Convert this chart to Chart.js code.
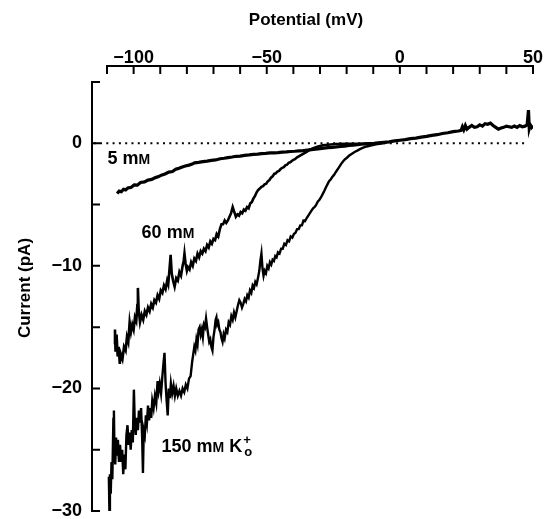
<!DOCTYPE html>
<html>
<head>
<meta charset="utf-8">
<script src="https://cdn.jsdelivr.net/npm/chart.js@4.4.1/dist/chart.umd.min.js"></script>
<style>
  html, body { margin: 0; padding: 0; background: #fff; }
  canvas { display: block; }
</style>
</head>
<body>
<canvas id="ivChart" width="553" height="519"></canvas>
<script>
// tick values
const xTickLabels = [-100, -50, 0, 50]
const xMinorTicks = [-110, -100, -90, -80, -70, -60, -50, -40, -30, -20, -10, 0, 10, 20, 30, 40, 50]
const yTickLabels = [0, -10, -20, -30]
const yMinorTicks = [5, 0, -5, -10, -15, -20, -25, -30]

// 5 mM trace (mV, pA), including the shared tail above the reversal potential
const mv5 = [-106.2, -105.4, -104.6, -103.8, -103, -102.2, -101, -99.8, -98.6, -97.4, -95.9, -94.6, -93.2, -91.8, -90.6, -89.6,
  -88.2, -86.8, -85.4, -84.2, -83.4, -82, -80.6, -79.2, -78, -77.1, -75.6, -74, -72.4, -70.8, -69.2, -67.5, -66, -64.6,
  -63, -61.5, -60, -58.3, -56.6, -55, -53.4, -52.0, -50.4, -48.8, -47.2, -45.8, -44.2, -42.6, -41, -39.5, -37.9, -36.3,
  -34.7, -33.2, -31.6, -30, -28.5, -27.0, -25.4, -23.8, -22.2, -20.7, -19.1, -17.6, -16, -14.5, -12.9, -11.3, -9.7, -8.2,
  -6, -4, -2, 0, 2, 4, 6, 8, 10, 12, 14, 16, 18, 20, 22, 23, 23.5, 24, 24.6, 25.2, 26, 27, 28, 29, 30, 31, 32, 33, 34, 35,
  36, 37, 38, 39, 40, 41, 42, 43, 44, 45, 46, 47, 47.8, 48.3, 48.6, 49, 49.5, 50]
const pa5 = [-4.1, -3.9, -3.95, -3.75, -3.8, -3.65, -3.6, -3.4, -3.42, -3.2, -3.15, -3.0, -2.95, -2.8, -2.72, -2.6,
  -2.5, -2.35, -2.3, -2.12, -2.07, -1.95, -1.85, -1.78, -1.7, -1.6, -1.56, -1.5, -1.45, -1.39, -1.36, -1.26, -1.22, -1.17,
  -1.12, -1.06, -1.04, -0.98, -0.95, -0.9, -0.88, -0.84, -0.82, -0.79, -0.78, -0.76, -0.72, -0.7, -0.67, -0.65, -0.62, -0.6,
  -0.56, -0.52, -0.47, -0.44, -0.4, -0.35, -0.33, -0.3, -0.26, -0.24, -0.18, -0.15, -0.11, -0.08, -0.05, -0.02, 0.0, 0.03,
  0.08, 0.12, 0.19, 0.25, 0.3, 0.38, 0.42, 0.5, 0.56, 0.65, 0.7, 0.8, 0.86, 0.95, 1.0, 1.05, 1.35, 1.1, 1.45, 1.15, 1.3, 1.45,
  1.3, 1.35, 1.5, 1.4, 1.6, 1.55, 1.65, 1.45, 1.3, 1.15, 1.25, 1.3, 1.4, 1.35, 1.3, 1.4, 1.3, 1.45, 1.35, 1.4, 1.5, 2.7,
  1.2, 1.5, 1.3, 1.45]

// 60 mM trace
const mv60 = [-107.2, -107.0, -106.8, -106.4, -106.0, -105.6, -105.2, -104.8, -104.2, -103.6, -103.0, -102.5, -102.0, -101.5,
  -101.0, -100.5, -100.0, -99.5, -99.0, -98.6, -98.4, -98.1, -97.6, -97.0, -96.4, -95.8, -95.2, -94.6, -94.0, -93.4, -92.8,
  -92.2, -91.6, -91.0, -90.4, -89.8, -89.2, -88.6, -88.0, -87.4, -87.0, -86.5, -86.1, -85.7, -85.2, -84.6, -84.0, -83.4,
  -82.8, -82.2, -81.6, -81.2, -80.9, -80.5, -80.0, -79.6, -79.0, -78.4, -77.8, -77.2, -76.6, -76.0, -75.4, -74.8, -74.2,
  -73.6, -73.0, -72.4, -71.8, -71.2, -70.6, -70.0, -69.4, -68.8, -68.2, -67.6, -67.0, -66.4, -65.8, -65.2, -64.6, -64.0,
  -63.4, -62.8, -62.2, -61.6, -61.0, -60.4, -59.8, -59.2, -58.6, -58.0, -57.4, -56.8, -56.2, -55.6, -55.0, -54.4, -53.8,
  -53.2, -52.6, -52.0, -51.4, -50.8, -50.2, -49.6, -49.0, -48.4, -47.8, -47.2, -46.6, -46.0, -45.4, -44.8, -44.2, -43.6,
  -43.0, -42.4, -41.8, -41.2, -40.6, -40.0, -39.4, -38.6, -37.8, -37.0, -36.0, -35.0, -34.0, -33.0, -32.0, -31.0, -30.0,
  -29.0, -28.0, -26.0, -24.0, -20.0, -15.0, -10.0]
const pa60 = [-16.4, -15.2, -17.0, -15.6, -17.4, -16.6, -18.0, -17.2, -17.6, -16.6, -16.9, -15.8, -16.2, -14.6,
  -15.4, -14.8, -15.2, -14.2, -14.5, -13.2, -11.8, -13.6, -14.6, -14.0, -14.4, -13.7, -14.0, -13.4, -13.7, -13.1, -13.4,
  -12.8, -13.0, -12.4, -12.7, -12.0, -12.2, -11.6, -11.9, -11.2, -11.5, -10.2, -9.1, -10.6, -11.2, -11.7, -11.0, -11.2,
  -10.5, -10.8, -10.0, -9.6, -9.0, -9.8, -10.4, -10.1, -10.3, -9.7, -10.0, -9.4, -9.6, -9.0, -9.3, -8.8, -9.0,
  -8.6, -8.8, -8.3, -8.5, -8.0, -8.2, -7.8, -7.9, -7.4, -7.6, -7.0, -6.6, -6.6, -6.3, -6.5, -6.3, -6.0,
  -5.7, -5.2, -5.6, -6.0, -5.8, -5.9, -5.6, -5.7, -5.4, -5.5, -5.2, -5.3, -4.9, -4.8, -4.5, -4.3, -4.0,
  -3.8, -3.7, -3.55, -3.5, -3.35, -3.3, -3.1, -3.0, -2.8, -2.7, -2.5, -2.45, -2.3, -2.25, -2.1, -2.0, -1.95,
  -1.8, -1.75, -1.6, -1.55, -1.45, -1.35, -1.3, -1.15, -1.05, -0.95, -0.82, -0.7, -0.55, -0.45, -0.36, -0.28, -0.22,
  -0.17, -0.14, -0.1, -0.06, -0.05, -0.04, -0.02]

// 150 mM trace
const mv150 = [-109.3, -109.1, -108.9, -108.6, -108.3, -108.0, -107.6, -107.4, -107.2, -106.9, -106.6, -106.2, -105.9, -105.5,
  -105.1, -104.7, -104.3, -103.9, -103.5, -103.1, -102.7, -102.3, -101.9, -101.5, -101.1, -100.7, -100.3, -99.9, -99.6, -99.2,
  -98.8, -98.4, -98.0, -97.6, -97.2, -96.8, -96.5, -96.2, -95.8, -95.4, -95.0, -94.6, -94.2, -93.8, -93.4, -93.0, -92.5,
  -92.0, -91.5, -91.0, -90.6, -90.2, -89.7, -89.2, -88.8, -88.4, -88.0, -87.6, -87.2, -86.8, -86.4, -86.0, -85.5, -85.0,
  -84.5, -84.0, -83.4, -82.8, -82.2, -81.6, -81.0, -80.4, -79.8, -79.2, -78.6, -78.0, -77.6, -77.2, -76.8, -76.4, -76.0,
  -75.6, -75.2, -74.8, -74.4, -74.0, -73.6, -73.2, -72.8, -72.4, -72.0, -71.6, -71.2, -70.8, -70.4, -70.0, -69.6, -69.2,
  -68.9, -68.6, -68.2, -67.8, -67.4, -67.0, -66.6, -66.2, -65.8, -65.3, -64.8, -64.3, -63.8, -63.3, -62.8, -62.3, -61.8,
  -61.3, -60.8, -60.3, -59.8, -59.3, -58.8, -58.3, -57.8, -57.3, -56.8, -56.3, -55.8, -55.3, -54.8, -54.3, -53.8, -53.3,
  -52.8, -52.4, -52.0, -51.6, -51.2, -50.8, -50.3, -49.8, -49.3, -48.8, -48.3, -47.8, -47.3, -46.8, -46.3, -45.8, -45.2,
  -44.6, -44.0, -43.4, -42.8, -42.2, -41.6, -41.0, -40.4, -39.8, -39.2, -38.6, -38.0, -37.4, -36.8, -36.2, -35.6, -35.0,
  -34.4, -33.8, -33.2, -32.6, -32.0, -31.4, -30.8, -30.2, -29.6, -29.0, -28.4, -27.8, -27.2, -26.6, -26.0, -25.4, -24.8,
  -24.2, -23.6, -23.0, -22.4, -21.8, -21.2, -20.6, -20.0, -19.0, -18.0, -17.0, -16.0, -15.0, -14.0, -12.5, -11.0, -9.0,
  -7.0, -5.0]
const pa150 = [-27.2, -30.0, -27.0, -28.6, -26.0, -27.4, -22.5, -21.8, -25.5, -26.2, -24.0, -25.4, -24.2, -26.0,
  -24.6, -26.0, -25.0, -27.0, -25.4, -26.6, -23.8, -23.0, -24.6, -23.6, -25.0, -23.4, -24.4, -20.1, -22.6, -23.8,
  -22.4, -23.4, -21.8, -22.8, -21.6, -24.0, -26.9, -23.4, -23.8, -22.2, -22.8, -21.4, -22.6, -21.6, -22.4, -21.0, -21.6,
  -20.6, -21.2, -19.4, -20.2, -19.6, -20.4, -19.0, -18.0, -17.1, -19.6, -21.0, -22.2, -20.0, -20.8, -19.6, -20.4, -19.8,
  -20.6, -20.0, -20.6, -20.2, -20.6, -20.0, -20.3, -19.7, -20.0, -19.2, -19.0, -17.8, -17.2, -16.6, -16.9, -16.0, -16.4,
  -15.2, -15.0, -15.6, -15.2, -15.8, -14.8, -15.0, -14.3, -15.0, -15.6, -16.2, -16.0, -16.6, -16.9, -15.8, -15.2, -14.4,
  -14.2, -14.8, -14.6, -15.2, -15.4, -15.9, -16.2, -15.6, -15.9, -15.2, -15.4, -14.6, -14.8, -14.1, -14.4, -13.8, -14.2,
  -13.7, -13.2, -12.8, -13.0, -13.4, -13.1, -12.7, -12.9, -12.4, -12.6, -12.0, -12.2, -11.6, -11.8, -11.3, -11.5, -11.0,
  -10.4, -9.6, -9.0, -10.2, -10.8, -10.4, -10.6, -10.0, -10.2, -9.7, -9.9, -9.5, -9.6, -9.2, -9.3, -8.9, -9.0,
  -8.6, -8.6, -8.2, -8.3, -7.9, -8.0, -7.6, -7.7, -7.4, -7.3, -7.0, -7.0, -6.7, -6.7, -6.3, -6.35, -6.1,
  -5.9, -5.7, -5.5, -5.3, -5.2, -5.0, -4.75, -4.6, -4.4, -4.15, -3.9, -3.6, -3.35, -3.1, -2.95, -2.75, -2.6,
  -2.4, -2.2, -2.0, -1.8, -1.6, -1.45, -1.3, -1.2, -1.0, -0.85, -0.71, -0.6, -0.48, -0.38, -0.26, -0.18, -0.08,
  -0.02, 0.06]

// zero reference line
const zeroLineMv = [-115, 47]

// trace labels, anchored in data units (left edge, baseline)
const traceLabels = [
  { parts: ['5 m', 'M'], mv: -109.8, pa: -1.71 },
  { parts: ['60 m', 'M'], mv: -97, pa: -7.74 },
  { parts: ['150 m', 'M', ' K'], mv: -89.5, pa: -25.2, ion: true }
]

const fontFamily = '"Liberation Sans", Arial, Helvetica, sans-serif'
const tickFont = { family: fontFamily, size: 18, weight: 'bold' }

function toPoints(xs, ys) {
  return xs.map((v, i) => ({ x: v, y: ys[i] }))
}

function fmt(v) {
  return v < 0 ? '\u2212' + Math.abs(v) : String(v)
}

function noScalePadding(s) {
  s.paddingTop = 0
  s.paddingBottom = 0
  s.paddingLeft = 0
  s.paddingRight = 0
}

const axesPlugin = {
  id: 'detachedAxes',
  afterDraw(chart) {
    const { ctx, chartArea } = chart
    const x = chart.scales.x
    const y = chart.scales.y
    ctx.save()
    ctx.strokeStyle = '#000'
    ctx.lineWidth = 2
    ctx.lineCap = 'butt'

    // x axis on top, detached above the plot
    const ax = chartArea.top - 16
    ctx.beginPath()
    ctx.moveTo(x.getPixelForValue(xMinorTicks[0]) - 1, ax)
    ctx.lineTo(x.getPixelForValue(xMinorTicks[xMinorTicks.length - 1]) + 1, ax)
    xMinorTicks.forEach(v => {
      const px = x.getPixelForValue(v)
      ctx.moveTo(px, ax)
      ctx.lineTo(px, ax + 8)
    })
    ctx.stroke()

    // y axis on the left, detached
    const ay = chartArea.left - 15
    ctx.beginPath()
    ctx.moveTo(ay, y.getPixelForValue(yMinorTicks[0]) - 1)
    ctx.lineTo(ay, y.getPixelForValue(yMinorTicks[yMinorTicks.length - 1]) + 1)
    yMinorTicks.forEach(v => {
      const py = y.getPixelForValue(v)
      ctx.moveTo(ay, py)
      ctx.lineTo(ay + 8, py)
    })
    ctx.stroke()

    // axis titles
    ctx.fillStyle = '#000'
    ctx.font = 'bold 17px ' + fontFamily
    ctx.textAlign = 'center'
    ctx.textBaseline = 'middle'
    ctx.fillText('Potential (mV)', 306, 20)
    ctx.save()
    ctx.translate(25, 288)
    ctx.rotate(-Math.PI / 2)
    ctx.fillText('Current (pA)', 0, 0)
    ctx.restore()

    // trace labels: small-cap M, optional K with sub/superscript
    ctx.textAlign = 'left'
    ctx.textBaseline = 'alphabetic'
    traceLabels.forEach(lbl => {
      let px = x.getPixelForValue(lbl.mv)
      const py = y.getPixelForValue(lbl.pa)
      ctx.font = 'bold 18px ' + fontFamily
      ctx.fillText(lbl.parts[0], px, py)
      px += ctx.measureText(lbl.parts[0]).width
      ctx.font = 'bold 14px ' + fontFamily
      ctx.fillText(lbl.parts[1], px, py)
      px += ctx.measureText(lbl.parts[1]).width
      if (lbl.ion) {
        ctx.font = 'bold 18px ' + fontFamily
        ctx.fillText(lbl.parts[2], px, py)
        px += ctx.measureText(lbl.parts[2]).width + 1
        ctx.font = 'bold 13px ' + fontFamily
        ctx.fillText('+', px, py - 8)
        ctx.fillText('o', px + 1, py + 4)
      }
    })
    ctx.restore()
  }
}

const traceStyle = {
  borderColor: '#000',
  borderWidth: 3.2,
  pointRadius: 0,
  tension: 0,
  fill: false
}

new Chart(document.getElementById('ivChart'), {
  type: 'line',
  data: {
    datasets: [
      {
        label: 'zero',
        data: toPoints(zeroLineMv, [0, 0]),
        borderColor: '#000',
        borderWidth: 2,
        borderDash: [2, 4.3],
        pointRadius: 0,
        clip: false
      },
      Object.assign({ label: '5 mM', data: toPoints(mv5, pa5) }, traceStyle),
      Object.assign({ label: '60 mM', data: toPoints(mv60, pa60) }, traceStyle, { borderWidth: 2.6 }),
      Object.assign({ label: '150 mM', data: toPoints(mv150, pa150) }, traceStyle, { borderWidth: 2.4 })
    ]
  },
  options: {
    responsive: false,
    devicePixelRatio: 1,
    animation: false,
    layout: { padding: { top: 0, left: 0, right: 20, bottom: 8 } },
    plugins: {
      legend: { display: false },
      tooltip: { enabled: false }
    },
    scales: {
      x: {
        type: 'linear',
        position: 'top',
        min: -110,
        max: 50,
        grid: { display: false, drawTicks: false },
        border: { display: false },
        ticks: {
          color: '#000',
          font: tickFont,
          padding: 13,
          autoSkip: false,
          maxRotation: 0,
          callback: v => fmt(v)
        },
        afterBuildTicks: s => { s.ticks = xTickLabels.map(v => ({ value: v })) },
        afterFit: s => { s.height = 82; noScalePadding(s) }
      },
      y: {
        type: 'linear',
        min: -30,
        max: 5,
        grid: { display: false, drawTicks: false },
        border: { display: false },
        ticks: {
          color: '#000',
          font: tickFont,
          padding: 25,
          callback: v => fmt(v)
        },
        afterBuildTicks: s => { s.ticks = yTickLabels.map(v => ({ value: v })) },
        afterFit: s => { s.width = 107; noScalePadding(s) }
      }
    }
  },
  plugins: [axesPlugin]
})
</script>
</body>
</html>
